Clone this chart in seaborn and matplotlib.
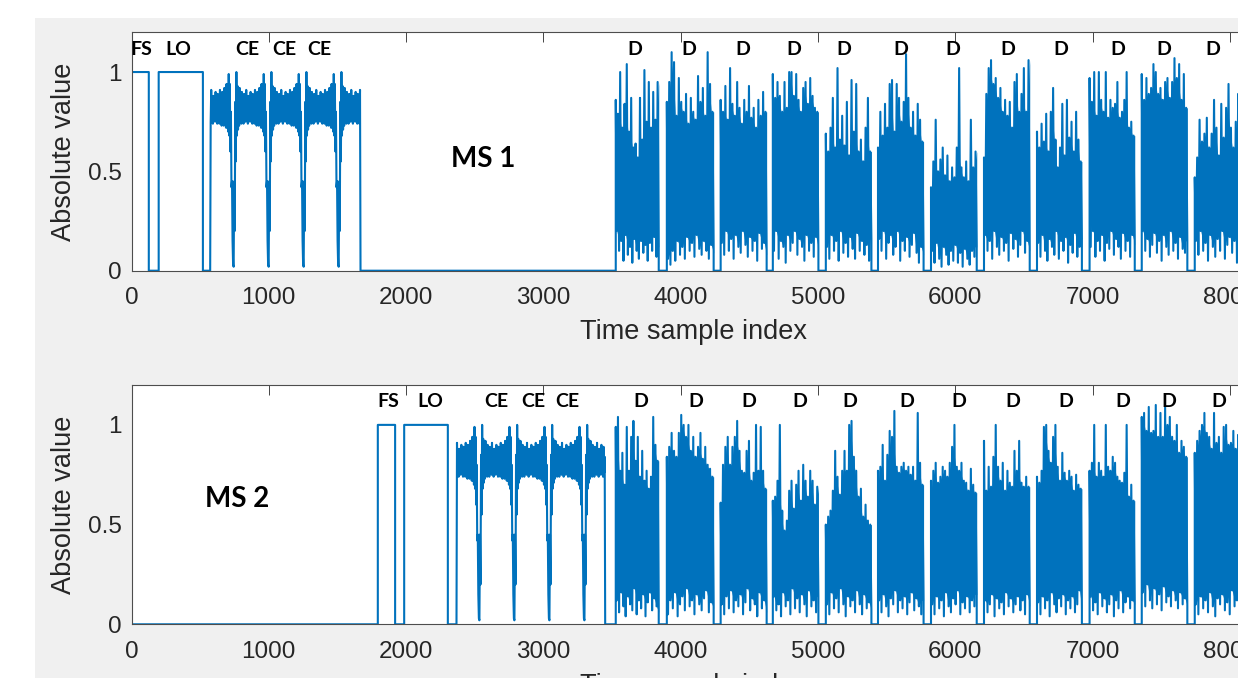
import numpy as np
import seaborn as sns
import matplotlib.pyplot as plt
from matplotlib.patches import Rectangle

# ---------------- data (time sample index / absolute value) -------------
ce_period = 255

# preamble steps: FS and LO blocks, then back to zero before the CE part
ms1_steps_x = [0, 126, 126, 198, 198, 520, 520, 573]
ms1_steps_y = [1, 1, 0, 0, 1, 1, 0, 0]
ms2_steps_x = [0, 1794, 1794, 1920, 1920, 1986, 1986, 2304, 2304, 2367]
ms2_steps_y = [0, 0, 1, 1, 0, 0, 1, 1, 0, 0]

ms1_ce = (573, 1668)
ms1_ce_dip = 740
ms2_ce = (2367, 3450)
ms2_ce_dip = 2530

# one CE period, from one dip to the next: upper / lower edge of the band
ce_hi = [0.03, 0.45, 0.85, 1.0, 0.93, 0.86, 0.92, 0.84, 0.9, 0.83, 0.89, 0.84, 0.91, 0.82, 0.88, 0.84,
         0.9, 0.83, 0.89, 0.84, 0.91, 0.85, 0.9, 0.86, 0.92, 0.87, 0.94, 0.9, 0.99, 0.94, 0.8, 0.45]
ce_lo = [0.02, 0.2, 0.55, 0.68, 0.71, 0.73, 0.75, 0.74, 0.76, 0.74, 0.76, 0.75, 0.77, 0.74, 0.76, 0.75,
         0.77, 0.74, 0.76, 0.74, 0.75, 0.73, 0.75, 0.73, 0.74, 0.72, 0.72, 0.7, 0.68, 0.6, 0.42, 0.15]

# data bursts (same timing in both streams)
burst_edges = [(3527, 3840), (3899, 4240), (4291, 4626), (4671, 5003), (5057, 5389), (5437, 5769),
               (5823, 6156), (6209, 6542), (6595, 6922), (6978, 7307), (7358, 7690), (7744, 8192)]

ms1_peaks = [
    [0.86, 0.79, 1.0, 0.72, 0.84, 1.04, 0.7, 0.87, 0.62, 0.64, 0.57, 0.87, 0.66, 1.01, 0.75, 0.95, 0.72, 0.9, 0.76, 0.95],
    [0.85, 0.95, 1.1, 1.05, 0.78, 0.97, 0.85, 0.8, 0.89, 0.74, 0.87, 0.8, 0.76, 0.98, 0.85, 0.92, 0.78, 1.1, 0.94, 0.8],
    [0.86, 0.8, 0.93, 0.76, 1.02, 0.84, 0.78, 0.95, 0.82, 0.74, 0.86, 0.8, 0.93, 0.77, 0.82, 0.72, 0.86, 0.78, 0.9, 0.8],
    [0.99, 0.87, 0.95, 0.88, 0.8, 0.95, 0.82, 1.0, 1.0, 0.88, 0.99, 0.86, 0.8, 0.92, 0.95, 0.84, 0.97, 0.88, 0.82, 0.8],
    [0.69, 0.6, 0.72, 0.87, 0.62, 1.02, 0.66, 0.78, 0.63, 0.85, 0.58, 0.96, 0.7, 0.94, 0.6, 0.66, 0.55, 0.72, 0.87, 0.6],
    [0.62, 0.8, 0.68, 0.84, 0.72, 0.94, 0.96, 0.7, 0.94, 0.87, 0.75, 0.85, 1.09, 0.87, 0.72, 0.8, 0.68, 0.84, 0.76, 0.65],
    [0.42, 0.55, 0.76, 0.5, 0.56, 0.62, 0.48, 0.58, 0.45, 0.52, 0.47, 0.62, 1.02, 0.52, 0.47, 0.55, 0.45, 0.76, 0.52, 0.6],
    [0.57, 0.89, 1.02, 1.06, 0.94, 0.97, 0.87, 0.92, 0.8, 0.86, 0.78, 0.85, 0.72, 0.95, 0.99, 0.8, 0.89, 1.02, 0.8, 1.06],
    [0.7, 0.62, 0.74, 0.65, 0.79, 0.6, 0.8, 0.92, 0.66, 0.52, 0.62, 0.84, 0.58, 0.86, 0.67, 0.75, 0.6, 0.8, 0.66, 0.55],
    [0.97, 0.85, 1.0, 0.78, 1.0, 0.86, 0.8, 1.0, 0.77, 0.86, 0.82, 0.84, 0.95, 0.77, 0.8, 0.86, 1.0, 0.72, 0.75, 0.68],
    [0.99, 0.86, 0.97, 0.89, 0.92, 1.04, 1.0, 0.89, 0.92, 0.86, 0.95, 0.97, 0.87, 0.95, 1.07, 0.97, 1.04, 0.86, 0.99, 0.82],
    [0.47, 0.57, 0.76, 0.65, 0.69, 0.77, 0.62, 0.69, 0.86, 0.72, 0.58, 0.84, 0.67, 0.82, 0.94, 0.72, 0.62, 0.75, 0.89,
     0.82, 0.7, 0.85, 0.64, 0.78, 0.7, 0.8],
]
ms1_troughs = [
    [0.2, 0.1, 0.15, 0.05, 0.18, 0.08, 0.12, 0.04, 0.16, 0.1, 0.06, 0.15, 0.09, 0.13, 0.05, 0.14, 0.1, 0.17, 0.07, 0.12],
    [0.06, 0.03, 0.1, 0.05, 0.15, 0.08, 0.12, 0.06, 0.17, 0.1, 0.14, 0.07, 0.18, 0.11, 0.08, 0.15, 0.1, 0.06, 0.13, 0.09],
    [0.14, 0.08, 0.2, 0.1, 0.16, 0.06, 0.18, 0.12, 0.09, 0.2, 0.13, 0.07, 0.17, 0.1, 0.15, 0.05, 0.19, 0.11, 0.14, 0.08],
    [0.1, 0.2, 0.06, 0.15, 0.12, 0.04, 0.18, 0.1, 0.14, 0.2, 0.08, 0.16, 0.12, 0.05, 0.18, 0.1, 0.14, 0.07, 0.17, 0.11],
    [0.12, 0.06, 0.18, 0.1, 0.15, 0.05, 0.2, 0.09, 0.14, 0.07, 0.17, 0.11, 0.06, 0.19, 0.1, 0.15, 0.08, 0.13, 0.05, 0.16],
    [0.16, 0.1, 0.2, 0.06, 0.14, 0.18, 0.08, 0.12, 0.2, 0.05, 0.15, 0.1, 0.17, 0.07, 0.13, 0.19, 0.09, 0.04, 0.12, 0.08],
    [0.1, 0.04, 0.14, 0.06, 0.02, 0.12, 0.08, 0.03, 0.1, 0.05, 0.13, 0.04, 0.09, 0.02, 0.11, 0.06, 0.03, 0.1, 0.07, 0.12],
    [0.18, 0.1, 0.15, 0.06, 0.2, 0.12, 0.08, 0.17, 0.1, 0.14, 0.05, 0.19, 0.11, 0.16, 0.07, 0.13, 0.2, 0.09, 0.15, 0.1],
    [0.14, 0.07, 0.18, 0.1, 0.05, 0.16, 0.12, 0.08, 0.2, 0.06, 0.15, 0.1, 0.17, 0.04, 0.13, 0.09, 0.19, 0.07, 0.12, 0.16],
    [0.12, 0.2, 0.07, 0.15, 0.1, 0.18, 0.05, 0.14, 0.11, 0.2, 0.08, 0.16, 0.12, 0.06, 0.19, 0.1, 0.15, 0.07, 0.18, 0.13],
    [0.2, 0.1, 0.16, 0.07, 0.13, 0.19, 0.09, 0.15, 0.05, 0.18, 0.12, 0.08, 0.2, 0.1, 0.14, 0.06, 0.17, 0.11, 0.09, 0.15],
    [0.15, 0.08, 0.2, 0.1, 0.14, 0.05, 0.18, 0.12, 0.07, 0.16, 0.1, 0.2, 0.06, 0.13, 0.17, 0.09, 0.15, 0.04, 0.19,
     0.11, 0.08, 0.14, 0.18, 0.1, 0.06, 0.15],
]

ms2_peaks = [
    [0.99, 1.04, 0.77, 0.86, 0.7, 0.99, 0.77, 0.94, 1.02, 0.82, 0.94, 0.74, 0.87, 0.72, 0.77, 0.68, 0.74, 1.04, 0.9, 0.82],
    [0.84, 0.89, 0.96, 0.87, 0.84, 0.96, 1.05, 1.0, 0.94, 1.0, 0.87, 0.94, 0.84, 0.89, 0.96, 0.83, 0.89, 0.8, 0.78, 0.74],
    [0.61, 0.8, 0.89, 0.94, 0.8, 0.89, 0.94, 1.02, 0.87, 0.77, 0.76, 0.87, 0.92, 0.72, 0.76, 1.0, 0.77, 0.99, 0.77, 0.68],
    [0.62, 0.64, 0.72, 1.0, 0.57, 0.47, 0.52, 0.67, 0.72, 0.58, 0.7, 0.77, 0.62, 0.8, 0.72, 0.64, 0.77, 0.72, 0.6, 0.69],
    [0.5, 0.54, 0.57, 0.67, 0.87, 0.74, 0.65, 0.77, 0.87, 0.77, 1.0, 1.02, 0.84, 0.77, 0.64, 0.68, 0.54, 0.6, 0.52, 0.5],
    [0.77, 0.79, 0.9, 0.72, 0.85, 0.97, 0.94, 1.07, 0.79, 0.76, 0.79, 0.81, 0.77, 0.79, 0.75, 0.79, 0.72, 1.06, 0.81, 0.7],
    [0.72, 0.77, 0.81, 0.71, 0.74, 0.79, 0.77, 0.74, 0.81, 0.89, 1.0, 0.79, 0.77, 0.81, 0.72, 0.71, 0.67, 0.78, 0.7, 0.66],
    [0.92, 0.67, 0.79, 0.69, 0.84, 1.0, 0.79, 0.72, 0.81, 0.67, 0.77, 0.71, 0.69, 0.87, 0.77, 0.92, 0.71, 0.69, 0.74, 0.69],
    [0.74, 0.71, 0.77, 0.99, 1.0, 0.87, 0.81, 0.94, 1.0, 0.79, 0.72, 0.86, 0.76, 0.72, 0.77, 0.74, 0.67, 0.75, 0.7, 0.68],
    [0.77, 0.81, 1.0, 0.74, 0.81, 0.77, 0.74, 1.0, 0.79, 0.77, 0.84, 0.81, 0.74, 0.72, 0.71, 0.76, 1.0, 0.64, 0.7, 0.62],
    [1.04, 1.06, 0.97, 1.09, 0.96, 0.97, 1.1, 0.94, 1.06, 0.94, 1.09, 1.0, 1.04, 0.94, 0.92, 1.0, 0.86, 0.92, 0.89, 0.84],
    [0.86, 0.92, 0.97, 1.0, 1.06, 0.96, 0.94, 0.88, 1.06, 0.91, 0.94, 0.86, 0.99, 1.0, 0.9, 0.91, 0.97, 0.88, 0.95,
     0.86, 0.92, 0.98, 0.87, 0.93, 0.89, 0.95],
]
ms2_troughs = [
    [0.12, 0.06, 0.16, 0.09, 0.04, 0.14, 0.1, 0.07, 0.18, 0.05, 0.12, 0.08, 0.15, 0.04, 0.11, 0.16, 0.07, 0.13, 0.09, 0.06],
    [0.05, 0.12, 0.08, 0.16, 0.04, 0.1, 0.14, 0.07, 0.18, 0.09, 0.12, 0.05, 0.15, 0.1, 0.07, 0.13, 0.17, 0.06, 0.11, 0.08],
    [0.1, 0.05, 0.14, 0.08, 0.17, 0.06, 0.12, 0.09, 0.15, 0.05, 0.11, 0.18, 0.07, 0.13, 0.1, 0.04, 0.16, 0.08, 0.12, 0.06],
    [0.14, 0.07, 0.1, 0.04, 0.16, 0.09, 0.12, 0.05, 0.18, 0.08, 0.13, 0.06, 0.15, 0.1, 0.04, 0.17, 0.09, 0.12, 0.06, 0.14],
    [0.1, 0.05, 0.16, 0.08, 0.13, 0.06, 0.18, 0.1, 0.04, 0.14, 0.09, 0.12, 0.06, 0.17, 0.1, 0.05, 0.15, 0.08, 0.11, 0.07],
    [0.12, 0.06, 0.15, 0.09, 0.04, 0.13, 0.1, 0.17, 0.06, 0.12, 0.08, 0.14, 0.05, 0.11, 0.16, 0.07, 0.13, 0.09, 0.05, 0.12],
    [0.1, 0.05, 0.14, 0.08, 0.12, 0.04, 0.16, 0.09, 0.06, 0.13, 0.1, 0.17, 0.05, 0.11, 0.08, 0.14, 0.06, 0.12, 0.09, 0.15],
    [0.12, 0.06, 0.1, 0.15, 0.04, 0.13, 0.08, 0.11, 0.05, 0.16, 0.09, 0.13, 0.06, 0.1, 0.14, 0.07, 0.12, 0.05, 0.15, 0.09],
    [0.11, 0.05, 0.14, 0.08, 0.12, 0.04, 0.16, 0.1, 0.06, 0.13, 0.09, 0.15, 0.05, 0.12, 0.08, 0.14, 0.06, 0.1, 0.17, 0.07],
    [0.14, 0.07, 0.11, 0.05, 0.16, 0.09, 0.13, 0.06, 0.1, 0.15, 0.04, 0.12, 0.08, 0.17, 0.06, 0.11, 0.14, 0.08, 0.12, 0.1],
    [0.16, 0.09, 0.2, 0.12, 0.08, 0.18, 0.1, 0.15, 0.07, 0.19, 0.11, 0.14, 0.09, 0.17, 0.12, 0.08, 0.16, 0.1, 0.13, 0.09],
    [0.1, 0.05, 0.14, 0.08, 0.12, 0.06, 0.16, 0.09, 0.04, 0.13, 0.1, 0.15, 0.07, 0.11, 0.05, 0.17, 0.09, 0.12, 0.06,
     0.14, 0.08, 0.1, 0.05, 0.13, 0.09, 0.15],
]

# text labels above the traces
ms1_tags = ['FS', 'LO', 'CE', 'CE', 'CE'] + ['D'] * 12
ms1_tag_x = [73, 342, 847, 1115, 1366, 3667, 4062, 4454, 4825, 5188, 5606, 5983, 6384, 6770, 7186, 7521, 7878]
ms2_tags = ['FS', 'LO', 'CE', 'CE', 'CE'] + ['D'] * 12
ms2_tag_x = [1867, 2178, 2658, 2923, 3173, 3712, 4112, 4497, 4867, 5229, 5644, 6023, 6417, 6808, 7223, 7558, 7920]
tag_y = 1.115
ms_names = ['MS 1', 'MS 2']
ms_name_xy = [(2560, 0.56), (766, 0.627)]


def zigzag(t0, t1, hi, lo):
    y = np.column_stack([hi, lo]).ravel()
    x = np.linspace(t0, t1, len(y))
    return x, y


def core_band(t0, t1, hi, lo):
    # solid part of a burst: between the higher of two neighbouring troughs
    # and the lower of two neighbouring peaks
    hi = np.asarray(hi, float)
    lo = np.asarray(lo, float)
    x = np.linspace(t0, t1, 2 * len(hi))[1::2]
    top = np.minimum(hi, np.append(hi[1:], hi[-1]))
    bot = np.maximum(lo, np.append(lo[1:], lo[-1]))
    return x, bot, top


def ce_part(t0, t1, dip):
    n = 2 * len(ce_hi)
    xs, ys = [], []
    k0 = int(np.floor((t0 - dip) / ce_period))
    k1 = int(np.ceil((t1 - dip) / ce_period))
    for k in range(k0, k1):
        start = dip + k * ce_period
        xs.append(start + np.arange(n) * ce_period / n)
        ys.append(np.column_stack([ce_hi, ce_lo]).ravel())
    x = np.concatenate(xs)
    y = np.concatenate(ys)
    keep = (x >= t0) & (x <= t1)
    return x[keep], y[keep]


def build_signal(steps_x, steps_y, ce, dip, peaks, troughs):
    xs = [np.array(steps_x, float)]
    ys = [np.array(steps_y, float)]
    x, y = ce_part(ce[0], ce[1], dip)
    xs += [x, [ce[1]]]
    ys += [y, [0.0]]
    for (a, b), hi, lo in zip(burst_edges, peaks, troughs):
        x, y = zigzag(a, b, hi, lo)
        xs += [[a], x, [b]]
        ys += [[0.0], y, [0.0]]
    return np.concatenate(xs), np.concatenate(ys)


signals = [build_signal(ms1_steps_x, ms1_steps_y, ms1_ce, ms1_ce_dip, ms1_peaks, ms1_troughs),
           build_signal(ms2_steps_x, ms2_steps_y, ms2_ce, ms2_ce_dip, ms2_peaks, ms2_troughs)]
bursts = [(ms1_peaks, ms1_troughs), (ms2_peaks, ms2_troughs)]
tags = [(ms1_tags, ms1_tag_x), (ms2_tags, ms2_tag_x)]

# ---------------- plot ----------------
sns.set_theme(style='white')
plt.rcParams['font.family'] = ['Liberation Sans', 'DejaVu Sans']
plt.rcParams['path.simplify'] = False   # keep the dense zig-zag intact

blue = '#0072bd'
W, H = 1238, 678
fig = plt.figure(figsize=(W / 100, H / 100), dpi=100, facecolor='white')
fig.patches.append(Rectangle((35 / W, 0), 1, (H - 18) / H, transform=fig.transFigure,
                             facecolor='#f0f0f0', edgecolor='none', zorder=-10))

px_per_sample = 137.3 / 1000
ax_w = 8192 * px_per_sample / W
positions = [[131.5 / W, (H - 270.7) / H, ax_w, 238.4 / H],
             [131.5 / W, (H - 624.3) / H, ax_w, 239.3 / H]]

for i, pos in enumerate(positions):
    ax = fig.add_axes(pos)
    ax.set_facecolor('white')
    x, y = signals[i]
    sns.lineplot(x=x, y=y, ax=ax, sort=False, estimator=None, color=blue, linewidth=1.5)
    for (a, b), hi, lo in zip(burst_edges, *bursts[i]):
        bx, bb, bt = core_band(a, b, hi, lo)
        ax.fill_between(bx, bb, bt, color=blue, linewidth=0)

    ax.set_xlim(0, 8192)
    ax.set_ylim(0, 1.2)
    ax.set_xticks(range(0, 9000, 1000))
    ax.set_xticklabels([str(v) for v in range(0, 9000, 1000)])
    ax.set_yticks([0, 0.5, 1])
    ax.set_yticklabels(['0', '0.5', '1'])
    ax.tick_params(direction='in', length=7, width=0.6, top=True, right=True,
                   color='#262626', labelcolor='#262626', labelsize=17.5)
    ax.tick_params(axis='x', pad=12)
    ax.tick_params(axis='y', pad=7)
    for sp in ax.spines.values():
        sp.set_color('#4d4d4d')
        sp.set_linewidth(0.8)

    ax.set_xlabel('Time sample index', fontsize=19.5, color='#262626', labelpad=7)
    ax.set_ylabel('Absolute value', fontsize=19.5, color='#262626', labelpad=8)

    labels, lx = tags[i]
    for t, xv in zip(labels, lx):
        ax.text(xv, tag_y, t, ha='center', va='center', fontsize=14, fontweight='bold',
                family=['Lato', 'DejaVu Sans'], color='black')
    nx, ny = ms_name_xy[i]
    ax.text(nx, ny, ms_names[i], ha='center', va='center', fontsize=20, fontweight='bold',
            family=['Lato', 'DejaVu Sans'], color='black')

fig.savefig('out.png', dpi=100)
